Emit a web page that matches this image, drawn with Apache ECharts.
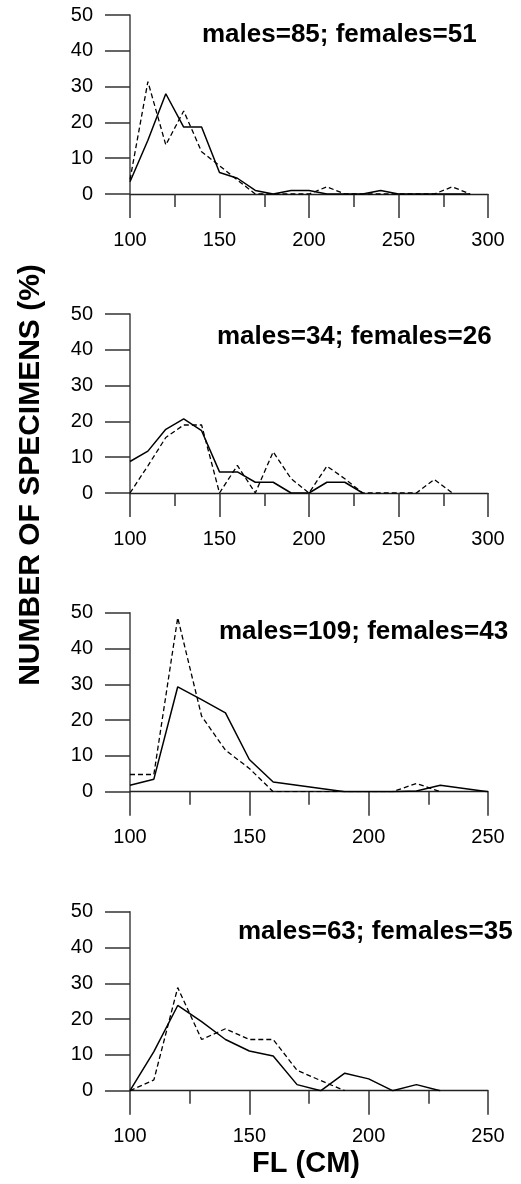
<!DOCTYPE html>
<html>
<head>
<meta charset="utf-8">
<title>FL distribution</title>
<script src="https://cdn.jsdelivr.net/npm/echarts@6/dist/echarts.min.js"></script>
<style>
  html, body { margin: 0; padding: 0; background: #fff; }
  #chart { width: 521px; height: 1184px; }
</style>
</head>
<body>
<div id="chart"></div>
<script>
// panel labels
var panelTitles = ['males=85; females=51', 'males=34; females=26', 'males=109; females=43', 'males=63; females=35'];
var xMax = [300, 300, 250, 250];

// panel 1
var fl1Males = [100, 110, 120, 130, 140, 150, 160, 170, 180, 190, 200, 210, 220, 230, 240, 250, 260, 270, 280, 290];
var males1 = [3.4, 15, 28, 18.7, 18.7, 6, 4.4, 1, 0, 1, 1, 0, 0, 0, 1, 0, 0, 0, 0, 0];
var fl1Females = [100, 110, 120, 130, 140, 150, 160, 170, 180, 190, 200, 210, 220, 230, 240, 250, 260, 270, 280, 290];
var females1 = [4, 31.4, 13.7, 23.2, 11.8, 7.9, 3.9, 0, 0, 0, 0, 2, 0, 0, 0, 0, 0, 0, 2, 0];

// panel 2
var fl2Males = [100, 110, 120, 130, 140, 150, 160, 170, 180, 190, 200, 210, 220, 230];
var males2 = [8.8, 11.7, 17.8, 20.7, 17.4, 5.9, 5.9, 3, 3, 0, 0, 3, 3, 0];
var fl2Females = [100, 110, 120, 130, 140, 150, 160, 170, 180, 190, 200, 210, 220, 230, 240, 250, 260, 270, 280];
var females2 = [0, 7.6, 15.5, 19, 19, 0, 7.7, 0, 11.5, 4, 0, 7.5, 4, 0, 0, 0, 0, 3.8, 0];

// panel 3
var fl3Males = [100, 110, 120, 130, 140, 150, 160, 170, 180, 190, 200, 210, 220, 230, 240, 250];
var males3 = [1.8, 3.5, 29.3, 25.7, 22, 9, 2.7, 1.8, 0.9, 0, 0, 0, 0.2, 1.8, 0.9, 0];
var fl3Females = [100, 110, 120, 130, 140, 150, 160, 170, 180, 190, 200, 210, 220, 230];
var females3 = [4.8, 4.8, 48.6, 21.1, 11.6, 6.5, 0, 0, 0, 0, 0, 0, 2.3, 0];

// panel 4
var fl4Males = [100, 110, 120, 130, 140, 150, 160, 170, 180, 190, 200, 210, 220, 230];
var males4 = [0, 10.9, 23.8, 19.3, 14.3, 11.1, 9.7, 1.7, 0, 4.9, 3.3, 0, 1.7, 0];
var fl4Females = [100, 110, 120, 130, 140, 150, 160, 170, 180, 190];
var females4 = [0, 3, 28.8, 14.3, 17.3, 14.3, 14.3, 5.7, 2.8, 0];

var malesX = [fl1Males, fl2Males, fl3Males, fl4Males];
var malesY = [males1, males2, males3, males4];
var femalesX = [fl1Females, fl2Females, fl3Females, fl4Females];
var femalesY = [females1, females2, females3, females4];

var FONT = '"Liberation Sans", Arial, sans-serif';
var gridTops = [15, 314, 612.7, 911.7];
var titlePos = [[202, 35], [217, 337], [219, 632], [238, 932]];

function pairs(xs, ys) {
  var out = [];
  for (var i = 0; i < xs.length; i++) out.push([xs[i], ys[i]]);
  return out;
}

var grids = [], xAxes = [], yAxes = [], series = [], graphics = [];
for (var p = 0; p < 4; p++) {
  grids.push({ left: 130, width: 358, top: gridTops[p], height: 179, outerBoundsMode: 'none' });
  xAxes.push({
    type: 'value', gridIndex: p, min: 100, max: xMax[p], interval: 50,
    splitLine: { show: false },
    axisLine: { show: true, onZero: false, lineStyle: { color: '#222', width: 1.4 } },
    axisTick: { show: true, length: 24, lineStyle: { color: '#333', width: 1.5 } },
    minorTick: { show: true, splitNumber: 2, length: 13, lineStyle: { color: '#333', width: 1.5 } },
    axisLabel: { margin: 36, color: '#000', fontSize: 20, fontFamily: FONT }
  });
  yAxes.push({
    type: 'value', gridIndex: p, min: 0, max: 50, interval: 10,
    splitLine: { show: false },
    axisLine: { show: true, lineStyle: { color: '#444', width: 1.5 } },
    axisTick: { show: true, length: 25, lineStyle: { color: '#333', width: 1.5 } },
    axisLabel: { margin: 37, color: '#000', fontSize: 20, fontFamily: FONT }
  });
  series.push({
    type: 'line', xAxisIndex: p, yAxisIndex: p, symbol: 'none', silent: true,
    lineStyle: { color: '#000', width: 1.5 },
    data: pairs(malesX[p], malesY[p])
  });
  series.push({
    type: 'line', xAxisIndex: p, yAxisIndex: p, symbol: 'none', silent: true,
    lineStyle: { color: '#000', width: 1.3, type: [5, 3] },
    data: pairs(femalesX[p], femalesY[p])
  });
  graphics.push({
    type: 'text', x: titlePos[p][0], y: titlePos[p][1],
    style: { text: panelTitles[p], font: 'bold 26px ' + FONT, fill: '#000', textVerticalAlign: 'middle' }
  });
}

// axis titles
graphics.push({
  type: 'text', x: 31, y: 475, rotation: Math.PI / 2,
  style: { text: 'NUMBER OF SPECIMENS (%)', font: 'bold 30px ' + FONT, fill: '#000', textAlign: 'center', textVerticalAlign: 'middle' }
});
graphics.push({
  type: 'text', x: 306, y: 1164,
  style: { text: 'FL (CM)', font: 'bold 29px ' + FONT, fill: '#000', textAlign: 'center', textVerticalAlign: 'middle' }
});

var chart = echarts.init(document.getElementById('chart'));
chart.setOption({
  animation: false,
  backgroundColor: '#fff',
  grid: grids,
  xAxis: xAxes,
  yAxis: yAxes,
  series: series,
  graphic: graphics
});
</script>
</body>
</html>
